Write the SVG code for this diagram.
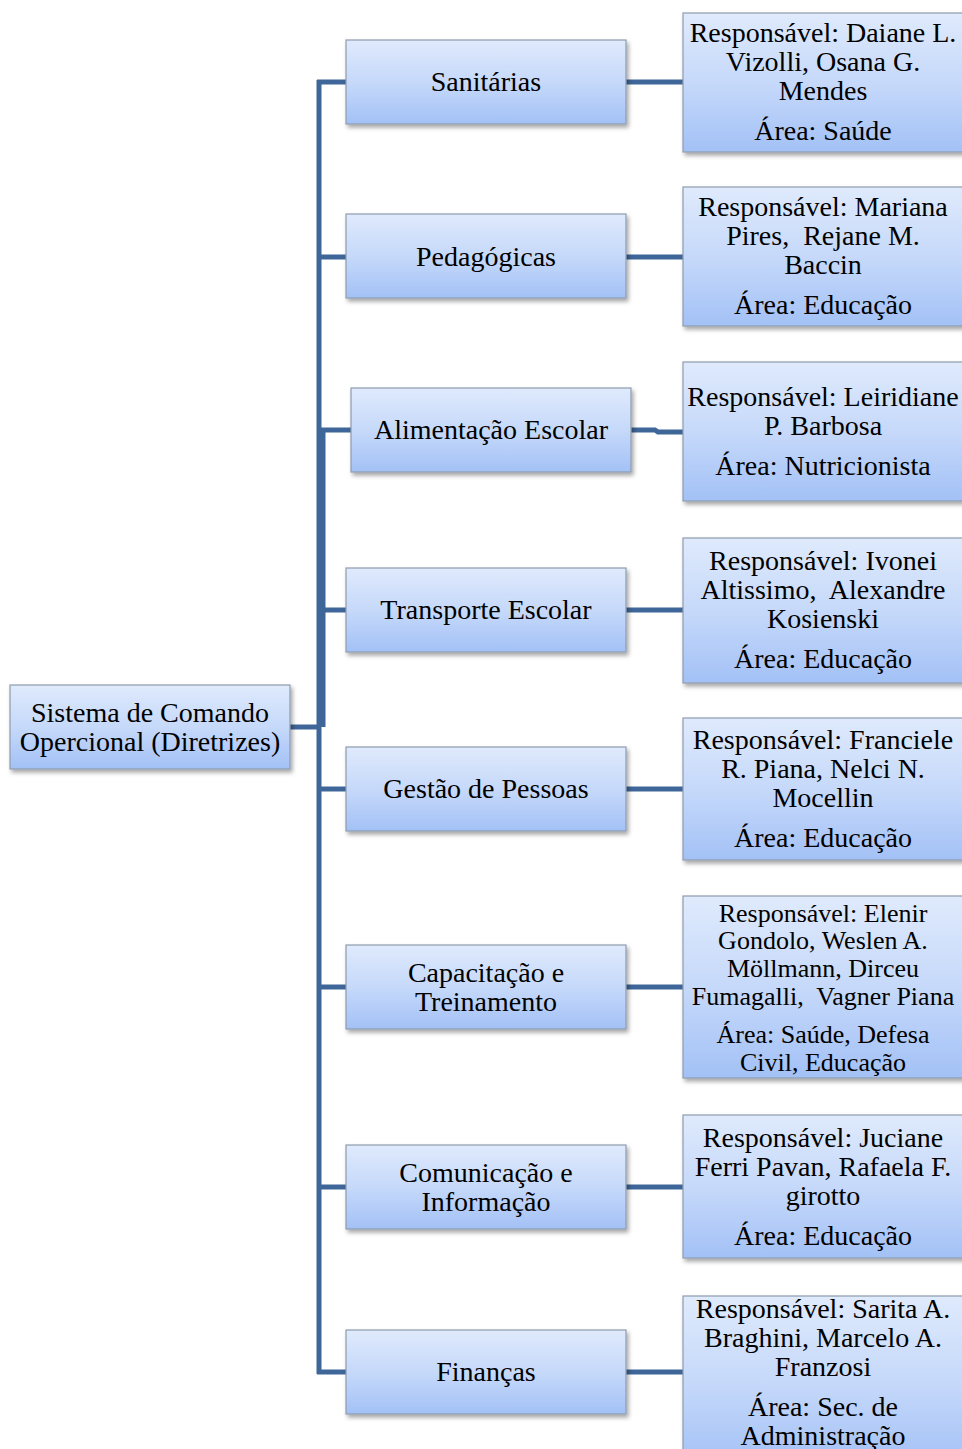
<svg xmlns="http://www.w3.org/2000/svg" width="962" height="1449" viewBox="0 0 962 1449">
<defs>
<linearGradient id="g" x1="0" y1="0" x2="0" y2="1">
<stop offset="0" stop-color="#dfeafc"/>
<stop offset="0.5" stop-color="#c6d9fa"/>
<stop offset="1" stop-color="#a3c1f6"/>
</linearGradient>
<filter id="sh" x="-10%" y="-10%" width="120%" height="130%">
<feDropShadow dx="2" dy="3" stdDeviation="2" flood-color="#000" flood-opacity="0.35"/>
</filter>
</defs>
<style>
.box{fill:url(#g);stroke:#8e9cae;stroke-width:1.2;filter:url(#sh)}
.t{font-family:"Liberation Serif","Times New Roman",serif;font-size:28px;fill:#000;text-anchor:middle}
.s{font-size:26px}
.c{fill:none;stroke:#3f6698;stroke-width:5}
</style>
<g id="connectors">
<path class="c" d="M290 727 H321 M319 80 V1374 M323 430 V727"/>
<path class="c" d="M317 82 H346 M317 257 H346 M321 430 H351 M317 610 H346 M317 789 H346 M317 987 H346 M317 1187 H346 M317 1372 H346"/>
<path class="c" d="M626 82 H683 M626 257 H683 M631 430 H655 L658 432 H683 M626 610 H683 M626 789 H683 M626 987 H683 M626 1187 H683 M626 1372 H683"/>
</g>
<g id="root">
<rect class="box" x="10" y="685" width="280" height="84"/>
<text class="t" x="150" y="722">Sistema de Comando</text>
<text class="t" x="150" y="751">Opercional (Diretrizes)</text>
</g>
<g id="sanitarias">
<rect class="box" x="346" y="40" width="280" height="84"/>
<text class="t" x="486" y="91">Sanitárias</text>
</g>
<g id="pedagogicas">
<rect class="box" x="346" y="214" width="280" height="84"/>
<text class="t" x="486" y="266">Pedagógicas</text>
</g>
<g id="alimentacao">
<rect class="box" x="351" y="388" width="280" height="84"/>
<text class="t" x="491" y="439">Alimentação Escolar</text>
</g>
<g id="transporte">
<rect class="box" x="346" y="568" width="280" height="84"/>
<text class="t" x="486" y="619">Transporte Escolar</text>
</g>
<g id="gestao">
<rect class="box" x="346" y="747" width="280" height="84"/>
<text class="t" x="486" y="798">Gestão de Pessoas</text>
</g>
<g id="capacitacao">
<rect class="box" x="346" y="945" width="280" height="84"/>
<text class="t" x="486" y="982">Capacitação e</text>
<text class="t" x="486" y="1011">Treinamento</text>
</g>
<g id="comunicacao">
<rect class="box" x="346" y="1145" width="280" height="84"/>
<text class="t" x="486" y="1182">Comunicação e</text>
<text class="t" x="486" y="1211">Informação</text>
</g>
<g id="financas">
<rect class="box" x="346" y="1330" width="280" height="84"/>
<text class="t" x="486" y="1381">Finanças</text>
</g>
<g id="resp-sanitarias">
<rect class="box" x="683" y="13" width="282" height="139"/>
<text class="t" x="823" y="42">Responsável: Daiane L.</text>
<text class="t" x="823" y="71">Vizolli, Osana G.</text>
<text class="t" x="823" y="100">Mendes</text>
<text class="t" x="823" y="140">Área: Saúde</text>
</g>
<g id="resp-pedagogicas">
<rect class="box" x="683" y="187" width="282" height="139"/>
<text class="t" x="823" y="216">Responsável: Mariana</text>
<text class="t" x="823" y="245">Pires,&#160; Rejane M.</text>
<text class="t" x="823" y="274">Baccin</text>
<text class="t" x="823" y="314">Área: Educação</text>
</g>
<g id="resp-alimentacao">
<rect class="box" x="683" y="362" width="282" height="139"/>
<text class="t" x="823" y="406">Responsável: Leiridiane</text>
<text class="t" x="823" y="435">P. Barbosa</text>
<text class="t" x="823" y="475">Área: Nutricionista</text>
</g>
<g id="resp-transporte">
<rect class="box" x="683" y="538" width="282" height="145"/>
<text class="t" x="823" y="570">Responsável: Ivonei</text>
<text class="t" x="823" y="599">Altissimo,&#160; Alexandre</text>
<text class="t" x="823" y="628">Kosienski</text>
<text class="t" x="823" y="668">Área: Educação</text>
</g>
<g id="resp-gestao">
<rect class="box" x="683" y="718" width="282" height="142"/>
<text class="t" x="823" y="749">Responsável: Franciele</text>
<text class="t" x="823" y="778">R. Piana, Nelci N.</text>
<text class="t" x="823" y="807">Mocellin</text>
<text class="t" x="823" y="847">Área: Educação</text>
</g>
<g id="resp-capacitacao">
<rect class="box" x="683" y="896" width="282" height="182"/>
<text class="t s" x="823" y="921.5">Responsável: Elenir</text>
<text class="t s" x="823" y="949">Gondolo, Weslen A.</text>
<text class="t s" x="823" y="977">Möllmann, Dirceu</text>
<text class="t s" x="823" y="1005">Fumagalli,&#160; Vagner Piana</text>
<text class="t s" x="823" y="1043">Área: Saúde, Defesa</text>
<text class="t s" x="823" y="1071">Civil, Educação</text>
</g>
<g id="resp-comunicacao">
<rect class="box" x="683" y="1115" width="282" height="143"/>
<text class="t" x="823" y="1147">Responsável: Juciane</text>
<text class="t" x="823" y="1176">Ferri Pavan, Rafaela F.</text>
<text class="t" x="823" y="1205">girotto</text>
<text class="t" x="823" y="1245">Área: Educação</text>
</g>
<g id="resp-financas">
<rect class="box" x="683" y="1296" width="282" height="170"/>
<text class="t" x="823" y="1318">Responsável: Sarita A.</text>
<text class="t" x="823" y="1347">Braghini, Marcelo A.</text>
<text class="t" x="823" y="1376">Franzosi</text>
<text class="t" x="823" y="1416">Área: Sec. de</text>
<text class="t" x="823" y="1445">Administração</text>
</g>
</svg>
